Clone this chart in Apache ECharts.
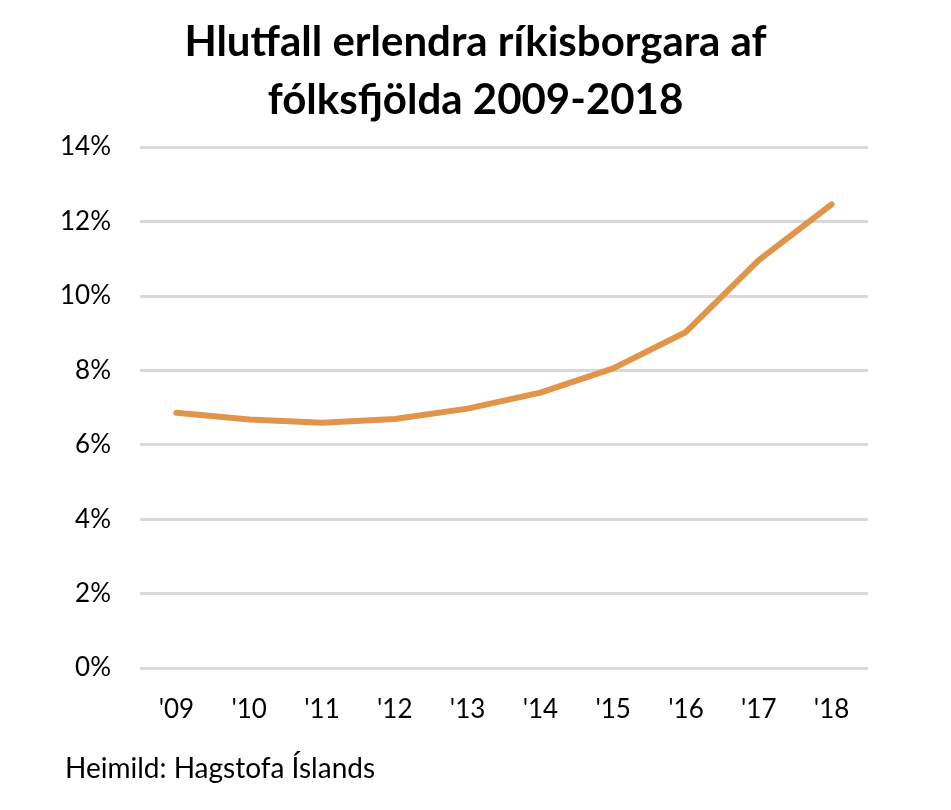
<!DOCTYPE html>
<html><head><meta charset="utf-8">
<script src="https://cdn.jsdelivr.net/npm/echarts@6/dist/echarts.min.js"></script>
<style>html,body{margin:0;padding:0;background:#fff}#c{width:951px;height:810px}</style>
</head><body><div id="c"></div>
<script>
const categories = ["'09","'10","'11","'12","'13","'14","'15","'16","'17","'18"];
const shareValues = [6.86, 6.68, 6.59, 6.69, 6.97, 7.40, 8.05, 9.03, 10.96, 12.46];
const titleText = "Hlutfall erlendra ríkisborgara af\nfólksfjölda 2009-2018";
const sourceText = "Heimild: Hagstofa Íslands";
const FONT = "Lato";
const chart = echarts.init(document.getElementById('c'), null, {renderer:'canvas'});
chart.setOption({
  backgroundColor:'#fff',
  animation:false,
  title:[{
    text:titleText, left:'center', top:8,
    textStyle:{fontFamily:FONT, fontWeight:'bold', fontSize:42, lineHeight:58, color:'#000'}
  },{
    text:sourceText, left:60, top:750,
    textStyle:{fontFamily:FONT, fontWeight:'normal', fontSize:28, color:'#000'}
  }],
  grid:{left:140, right:83, top:147, bottom:142, containLabel:false},
  xAxis:{
    type:'category', data:categories, boundaryGap:true,
    axisLine:{show:false}, axisTick:{show:false},
    axisLabel:{fontFamily:FONT, fontSize:26, color:'#000', margin:29}
  },
  yAxis:{
    type:'value', min:0, max:14, interval:2,
    axisLine:{show:false}, axisTick:{show:false},
    axisLabel:{fontFamily:FONT, fontSize:26, color:'#000', margin:29, formatter:'{value}%'},
    splitLine:{lineStyle:{color:'#d9d9d9', width:3}}
  },
  series:[{
    type:'line', data:shareValues, showSymbol:false,
    lineStyle:{color:'#e0954a', width:6, cap:'round', join:'round'},
    itemStyle:{color:'#e0954a'}
  }]
});
</script></body></html>
